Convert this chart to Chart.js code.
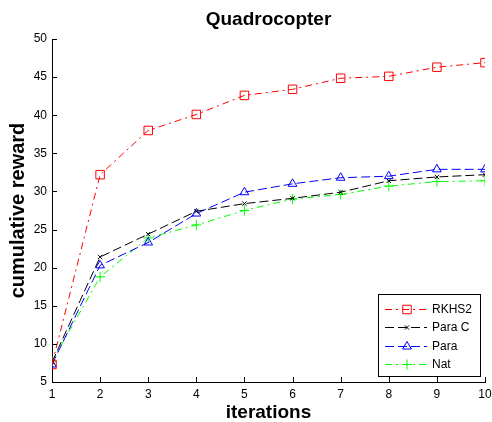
<!DOCTYPE html>
<html>
<head>
<meta charset="utf-8">
<script src="https://cdn.jsdelivr.net/npm/chart.js@4/dist/chart.umd.min.js"></script>
<style>
  html, body { margin: 0; padding: 0; background: #fff; }
  #wrap { width: 492px; height: 422px; }
</style>
</head>
<body>
<div id="wrap"><canvas id="chart" width="492" height="422"></canvas></div>
<script>
// данные
const iterations = [1, 2, 3, 4, 5, 6, 7, 8, 9, 10];
const rkhs2 = [7.3, 32.2, 38.0, 40.1, 42.6, 43.4, 44.85, 45.1, 46.3, 46.9];
const paraC = [7.6, 21.4, 24.4, 27.4, 28.4, 29.1, 29.9, 31.4, 31.9, 32.2];
const para  = [7.3, 20.3, 23.3, 27.1, 29.9, 31.0, 31.8, 32.0, 32.9, 32.9];
const nat   = [7.7, 18.8, 23.9, 25.6, 27.5, 29.0, 29.6, 30.7, 31.3, 31.4];
const yTicks = [5, 10, 15, 20, 25, 30, 35, 40, 45, 50];
const seriesNames = ['RKHS2', 'Para C', 'Para', 'Nat'];

const FONT = "'Liberation Sans', Arial, sans-serif";

function series(label, values, color, style, radius, dash) {
    return {
        label: label,
        data: iterations.map((x, i) => ({ x: x, y: values[i] })),
        borderColor: color,
        borderWidth: 1,
        borderDash: dash,
        backgroundColor: 'transparent',
        pointStyle: style,
        pointRadius: radius,
        pointBorderColor: color,
        pointBorderWidth: 1,
        pointBackgroundColor: 'transparent',
        tension: 0
    };
}

// засечки внутрь, как в MATLAB
const inwardTicks = {
    id: 'inwardTicks',
    afterDatasetsDraw(chart) {
        const { ctx, chartArea, scales } = chart;
        ctx.save();
        ctx.strokeStyle = '#000';
        ctx.lineWidth = 1;
        ctx.beginPath();
        iterations.forEach(v => {
            const px = Math.round(scales.x.getPixelForValue(v)) + 0.5;
            ctx.moveTo(px, chartArea.bottom);
            ctx.lineTo(px, chartArea.bottom - 5);
        });
        yTicks.forEach(v => {
            const py = Math.round(scales.y.getPixelForValue(v)) + 0.5;
            ctx.moveTo(chartArea.left, py);
            ctx.lineTo(chartArea.left + 5, py);
        });
        ctx.stroke();
        ctx.restore();
    }
};

// легенда в рамке в правом нижнем углу
const boxLegend = {
    id: 'boxLegend',
    afterDraw(chart) {
        const { ctx } = chart;
        const x0 = 378.5, y0 = 294.5, w = 102, h = 82;
        ctx.save();
        ctx.fillStyle = '#fff';
        ctx.fillRect(x0, y0, w, h);
        ctx.strokeStyle = '#000';
        ctx.lineWidth = 1;
        ctx.strokeRect(x0, y0, w, h);
        ctx.font = '12px ' + FONT;
        ctx.textBaseline = 'middle';
        chart.data.datasets.forEach((ds, i) => {
            const yy = Math.round(309 + i * 18.4) + 0.5;
            ctx.strokeStyle = ds.borderColor;
            ctx.setLineDash(ds.borderDash || []);
            ctx.beginPath();
            ctx.moveTo(385, yy);
            ctx.lineTo(427, yy);
            ctx.stroke();
            ctx.setLineDash([]);
            ctx.fillStyle = 'rgba(0,0,0,0)';
            Chart.helpers.drawPoint(ctx, {
                pointStyle: ds.pointStyle,
                radius: ds.pointRadius,
                borderWidth: 1,
                rotation: 0
            }, 407, yy);
            ctx.fillStyle = '#000';
            ctx.fillText(seriesNames[i], 432, yy);
        });
        ctx.restore();
    }
};

const ctx = document.getElementById('chart').getContext('2d');
const chart = new Chart(ctx, {
    type: 'line',
    data: {
        datasets: [
            series(seriesNames[0], rkhs2, '#ff0000', 'rect', 6, [7, 4, 2, 4]),
            series(seriesNames[1], paraC, '#000000', 'crossRot', 3, [9, 4]),
            series(seriesNames[2], para, '#0000ff', 'triangle', 5, [9, 4]),
            series(seriesNames[3], nat, '#00ff00', 'cross', 5, [7, 4, 2, 4])
        ]
    },
    options: {
        responsive: false,
        animation: false,
        devicePixelRatio: 1,
        layout: { padding: { top: 0, left: 0, right: 4, bottom: 0 } },
        plugins: {
            legend: { display: false },
            tooltip: { enabled: false },
            title: {
                display: true,
                text: 'Quadrocopter',
                fullSize: false,
                color: '#000',
                font: { family: FONT, size: 19, weight: 'bold', lineHeight: 1.2 },
                padding: { top: 8, bottom: 8.2 }
            }
        },
        scales: {
            x: {
                type: 'linear',
                min: 1,
                max: 10,
                afterFit(scale) { scale.height = 40; scale.paddingLeft = 0; scale.paddingRight = 0; },
                afterBuildTicks(scale) { scale.ticks = iterations.map(v => ({ value: v })); },
                ticks: {
                    color: '#000',
                    font: { family: FONT, size: 12 },
                    padding: 5,
                    maxRotation: 0,
                    autoSkip: false
                },
                grid: { display: false, drawTicks: false },
                border: { display: true, color: '#000', width: 1 },
                title: {
                    display: true,
                    text: 'iterations',
                    color: '#000',
                    font: { family: FONT, size: 19, weight: 'bold', lineHeight: 1 },
                    padding: { top: 0, bottom: 0 }
                }
            },
            y: {
                type: 'linear',
                min: 5,
                max: 50,
                afterFit(scale) { scale.width = 52; scale.paddingTop = 0; scale.paddingBottom = 0; },
                afterBuildTicks(scale) { scale.ticks = yTicks.map(v => ({ value: v })); },
                ticks: {
                    color: '#000',
                    font: { family: FONT, size: 12 },
                    padding: 5,
                    autoSkip: false
                },
                grid: { display: false, drawTicks: false },
                border: { display: true, color: '#000', width: 1 },
                title: {
                    display: true,
                    text: 'cumulative reward',
                    color: '#000',
                    font: { family: FONT, size: 20, weight: 'bold', lineHeight: 1.2 },
                    padding: { top: 6, bottom: 0 }
                }
            }
        }
    },
    plugins: [inwardTicks, boxLegend]
});
</script>
</body>
</html>
